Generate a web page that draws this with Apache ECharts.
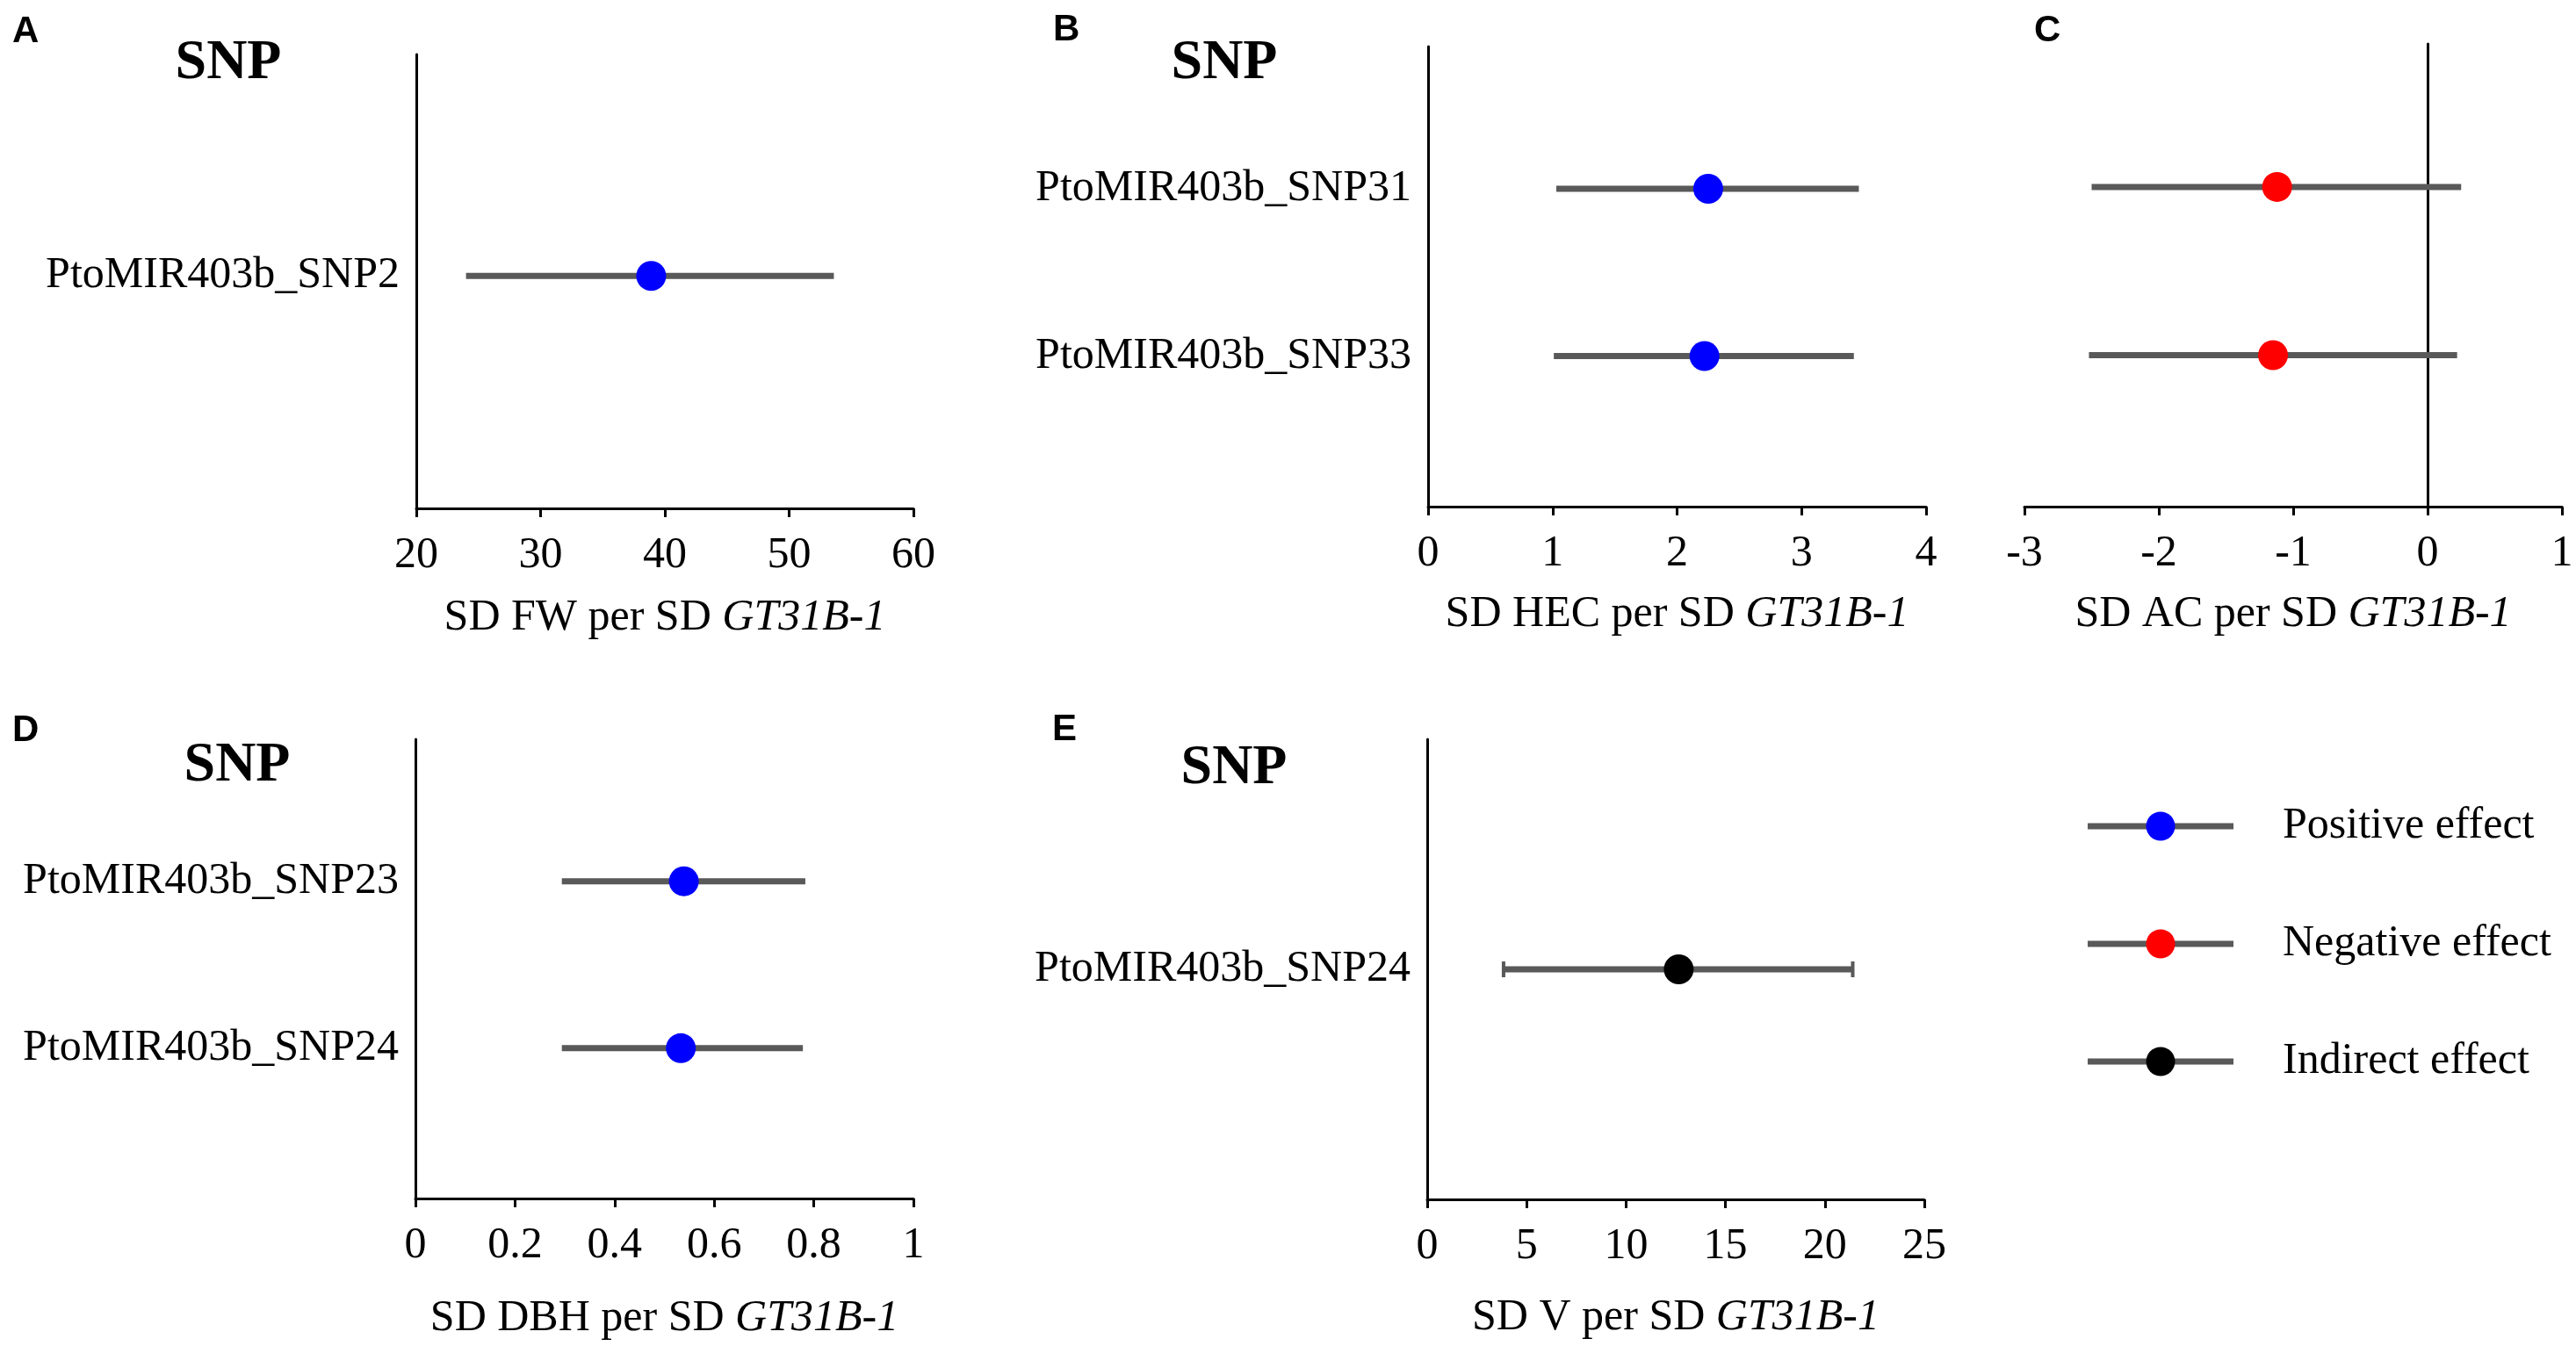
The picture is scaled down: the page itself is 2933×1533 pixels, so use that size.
<!DOCTYPE html>
<html>
<head>
<meta charset="utf-8">
<title>SNP effects on GT31B-1</title>
<script src="https://cdn.jsdelivr.net/npm/echarts@6.0.0/dist/echarts.min.js"></script>
<style>
  html, body { margin: 0; padding: 0; background: #fff; }
  #chart { width: 2933px; height: 1533px; }
</style>
</head>
<body>
<div id="chart"></div>
<script>
var SERIF = '"Liberation Serif", "Times New Roman", serif';
var SANS = '"Liberation Sans", Arial, sans-serif';
var BAR_COLOR = '#595959';

// ---- data ----
// A: SD FW per SD GT31B-1
var snpA = ['PtoMIR403b_SNP2'];
var estA = [38.9];
var lowA = [24.0];
var highA = [53.6];
var ticksA = [20, 60, 10];   // min, max, step

// B: SD HEC per SD GT31B-1
var snpB = ['PtoMIR403b_SNP31', 'PtoMIR403b_SNP33'];
var estB = [2.25, 2.22];
var lowB = [1.03, 1.01];
var highB = [3.46, 3.42];
var ticksB = [0, 4, 1];

// C: SD AC per SD GT31B-1 (same two SNPs as B)
var snpC = ['PtoMIR403b_SNP31', 'PtoMIR403b_SNP33'];
var estC = [-1.12, -1.15];
var lowC = [-2.50, -2.52];
var highC = [0.25, 0.22];
var ticksC = [-3, 1, 1];

// D: SD DBH per SD GT31B-1
var snpD = ['PtoMIR403b_SNP23', 'PtoMIR403b_SNP24'];
var estD = [0.539, 0.533];
var lowD = [0.294, 0.294];
var highD = [0.783, 0.778];
var ticksD = [0, 1, 0.2];

// E: SD V per SD GT31B-1
var snpE = ['PtoMIR403b_SNP24'];
var estE = [12.65];
var lowE = [3.84];
var highE = [21.4];
var ticksE = [0, 25, 5];

var effects = ['Positive effect', 'Negative effect', 'Indirect effect'];
var effectColors = ['#0000ff', '#ff0000', '#000000'];

// ---- panel layout ----
var panels = [
  { letter: 'A', trait: 'FW',  names: snpA, est: estA, low: lowA, high: highA, ticks: ticksA, effect: 0,
    grid: { left: 474, top: 62, width: 566, height: 517 }, yRange: [-0.05, 2],
    letterPos: [14, 36], snpPos: [260, 72], labels: true, caps: false, nameGap: 100 },
  { letter: 'B', trait: 'HEC', names: snpB, est: estB, low: lowB, high: highB, ticks: ticksB, effect: 0,
    grid: { left: 1626, top: 53, width: 567, height: 524 }, yRange: [0.1, 2.85],
    letterPos: [1199, 34], snpPos: [1394, 72], labels: true, caps: false, nameGap: 98 },
  { letter: 'C', trait: 'AC',  names: snpC, est: estC, low: lowC, high: highC, ticks: ticksC, effect: 1,
    grid: { left: 2305, top: 50, width: 612, height: 527 }, yRange: [0.1, 2.85],
    letterPos: [2316, 35], snpPos: null, labels: false, caps: false, nameGap: 98 },
  { letter: 'D', trait: 'DBH', names: snpD, est: estD, low: lowD, high: highD, ticks: ticksD, effect: 0,
    grid: { left: 473, top: 842, width: 567, height: 523 }, yRange: [0.1, 2.85],
    letterPos: [14, 832], snpPos: [270, 872], labels: true, caps: false, nameGap: 112 },
  { letter: 'E', trait: 'V',   names: snpE, est: estE, low: lowE, high: highE, ticks: ticksE, effect: 2,
    grid: { left: 1625, top: 842, width: 566, height: 524 }, yRange: [0, 2],
    letterPos: [1198, 831], snpPos: [1405, 875], labels: true, caps: true, nameGap: 110 }
];

function rowValue(names, i) {
  return names.length - i;   // first SNP on top
}

function makeErrorBarRenderer(caps) {
  return function (params, api) {
    var y = api.value(2);
    var p1 = api.coord([api.value(0), y]);
    var p2 = api.coord([api.value(1), y]);
    var children = [{
      type: 'line',
      shape: { x1: p1[0], y1: p1[1], x2: p2[0], y2: p2[1] },
      style: { stroke: BAR_COLOR, lineWidth: 7 }
    }];
    if (caps) {
      [p1, p2].forEach(function (p) {
        children.push({
          type: 'line',
          shape: { x1: p[0], y1: p[1] - 9, x2: p[0], y2: p[1] + 9 },
          style: { stroke: BAR_COLOR, lineWidth: 4 }
        });
      });
    }
    return { type: 'group', children: children };
  };
}

var grids = [], xAxes = [], yAxes = [], series = [], graphics = [];

panels.forEach(function (pn, k) {
  grids.push({
    left: pn.grid.left, top: pn.grid.top, width: pn.grid.width, height: pn.grid.height,
    containLabel: false, outerBoundsMode: 'none'
  });

  xAxes.push({
    type: 'value', gridIndex: k,
    min: pn.ticks[0], max: pn.ticks[1], interval: pn.ticks[2],
    name: 'SD ' + pn.trait + ' per SD {i|GT31B-1}',
    nameLocation: 'middle', nameGap: pn.nameGap,
    nameTextStyle: {
      fontFamily: SERIF, fontSize: 50, color: '#000',
      rich: { i: { fontFamily: SERIF, fontSize: 50, fontStyle: 'italic', color: '#000' } }
    },
    axisLine: { show: true, onZero: false, lineStyle: { color: '#000', width: 3 } },
    axisTick: { show: true, length: 10, lineStyle: { color: '#000', width: 3 } },
    axisLabel: { show: true, margin: 29, fontFamily: SERIF, fontSize: 50, color: '#000' },
    splitLine: { show: false }
  });

  var rows = pn.names.map(function (n, i) { return rowValue(pn.names, i); });
  yAxes.push({
    type: 'value', gridIndex: k,
    min: pn.yRange[0], max: pn.yRange[1],
    axisLine: { show: true, onZero: true, lineStyle: { color: '#000', width: 3 } },
    axisTick: { show: false },
    axisLabel: {
      show: pn.labels, margin: 19, fontFamily: SERIF, fontSize: 50, color: '#000',
      customValues: rows,
      formatter: function (v) {
        var i = pn.names.length - Math.round(v);
        return (Math.abs(v - Math.round(v)) < 1e-6 && pn.names[i]) ? pn.names[i] : '';
      }
    },
    splitLine: { show: false }
  });

  series.push({
    type: 'custom', xAxisIndex: k, yAxisIndex: k, z: 2, silent: true,
    renderItem: makeErrorBarRenderer(pn.caps),
    encode: { x: [0, 1], y: 2 },
    data: pn.names.map(function (n, i) { return [pn.low[i], pn.high[i], rowValue(pn.names, i)]; })
  });

  series.push({
    type: 'scatter', name: effects[pn.effect], xAxisIndex: k, yAxisIndex: k, z: 5,
    symbol: 'circle', symbolSize: 34, silent: true,
    itemStyle: { color: effectColors[pn.effect], opacity: 1 },
    data: pn.names.map(function (n, i) { return [pn.est[i], rowValue(pn.names, i)]; })
  });

  graphics.push({
    type: 'text', x: pn.letterPos[0], y: pn.letterPos[1],
    style: { text: pn.letter, font: 'bold 42px ' + SANS, fill: '#000', align: 'left', verticalAlign: 'middle' }
  });
  if (pn.snpPos) {
    graphics.push({
      type: 'text', x: pn.snpPos[0], y: pn.snpPos[1],
      style: { text: 'SNP', font: 'bold 64px ' + SERIF, fill: '#000', align: 'center', verticalAlign: 'middle' }
    });
  }
});

// make sure every legend entry has a series even if unused in a panel
effects.forEach(function (name, i) {
  var used = panels.some(function (pn) { return pn.effect === i; });
  if (!used) {
    series.push({ type: 'scatter', name: name, xAxisIndex: 0, yAxisIndex: 0, data: [] });
  }
});

function legendIcon(color) {
  var svg = '<svg xmlns="http://www.w3.org/2000/svg" width="217" height="34" viewBox="0 0 217 34">' +
    '<line x1="0" y1="17" x2="166" y2="17" stroke="' + BAR_COLOR + '" stroke-width="7"/>' +
    '<circle cx="83" cy="17" r="16.5" fill="' + color + '"/></svg>';
  return 'image://data:image/svg+xml;charset=utf-8,' + encodeURIComponent(svg);
}

var option = {
  backgroundColor: '#fff',
  animation: false,
  grid: grids,
  xAxis: xAxes,
  yAxis: yAxes,
  series: series,
  graphic: graphics,
  legend: {
    orient: 'vertical',
    left: 2377, top: 916,
    padding: 0,
    itemWidth: 217, itemHeight: 34, itemGap: 84,
    selectedMode: false,
    textStyle: { fontFamily: SERIF, fontSize: 50, color: '#000' },
    data: effects.map(function (name, i) {
      return { name: name, icon: legendIcon(effectColors[i]) };
    })
  }
};

var chart = echarts.init(document.getElementById('chart'));
chart.setOption(option);
</script>
</body>
</html>
